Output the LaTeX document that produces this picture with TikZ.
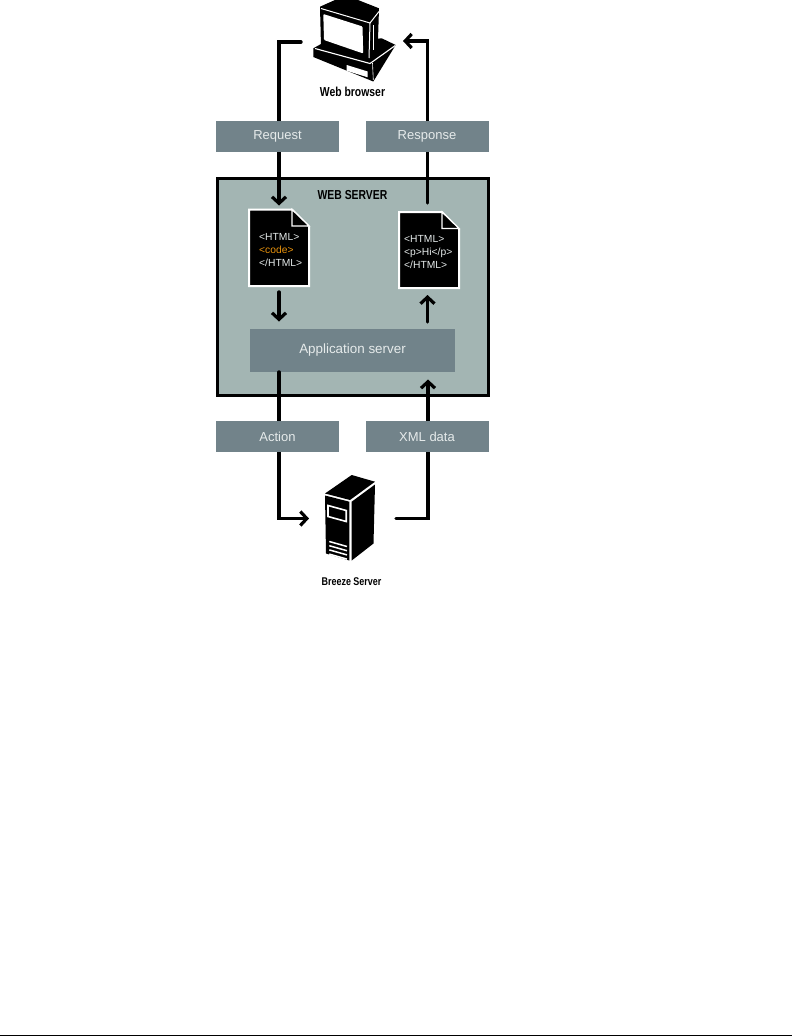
\documentclass[tikz,border=0pt]{standalone}
\usepackage{fontspec}
\usetikzlibrary{arrows.meta}
\setmainfont{Liberation Sans}
\newfontfamily\condfont[FakeStretch=0.8]{Liberation Sans}
\definecolor{panel}{HTML}{A3B5B3}
\definecolor{slate}{HTML}{72838A}
\definecolor{apptone}{HTML}{71838A}
\definecolor{codeorange}{HTML}{E8920C}
\definecolor{soft}{HTML}{E6EBEB}
\tikzset{
  flow/.style={line width=3.4pt,line join=miter,line cap=round,-{Straight Barb[length=6.5pt,width=14pt,line width=3.2pt]}},
  tag/.style={fill=slate,text=soft,minimum width=123pt,minimum height=31pt,inner sep=0pt,font=\fontsize{13}{15}\selectfont},
  caption/.style={font=\condfont\bfseries\fontsize{13}{15}\selectfont,inner sep=0pt,text=black},
  docsheet/.style={fill=black,draw=white,line width=2pt,line join=miter},
  codeline/.style={anchor=base west,inner sep=0pt,text=soft,font=\fontsize{10.3}{12}\selectfont},
}
\begin{document}
\begin{tikzpicture}[x=1pt,y=-1pt]
\useasboundingbox (0,0) rectangle (792,1036);
\fill[white] (0,0) rectangle (792,1036);
\draw[line width=1.2pt] (0,1035.2) -- (792,1035.2);

% web server panel
\node[draw=black,fill=panel,line width=3pt,minimum width=271pt,minimum height=217pt,inner sep=0pt] (webserver) at (352.5,286.5) {};
\node[caption] (webtitle) at (352.5,195.5) {WEB SERVER};
\node[fill=apptone,text=soft,minimum width=205pt,minimum height=43pt,inner sep=0pt,font=\fontsize{13.4}{15}\selectfont] (appserver) at (352.5,350.5) {Application server};

% connector ends
\coordinate (browserout) at (301,42);
\coordinate (browserin) at (403,41);
\coordinate (docinA) at (279,205.5);
\coordinate (docoutB) at (427.5,203);
\coordinate (docoutA) at (279,292);
\coordinate (appinA) at (279,321.5);
\coordinate (appoutB) at (427.5,322);
\coordinate (docinB) at (427.5,295);
\coordinate (appoutA) at (279,372);
\coordinate (breezein) at (309,518.5);
\coordinate (breezeout) at (396,518.5);
\coordinate (appinB) at (428,379.5);

% connectors
\draw[flow] (browserout) -| (docinA);
\draw[flow] (docoutB) |- (browserin);
\draw[flow] (docoutA) -- (appinA);
\draw[flow] (appoutB) -- (docinB);
\draw[flow] (appoutA) |- (breezein);
\draw[flow] (breezeout) -| (appinB);

% tags
\node[tag] (request) at (277.5,136.5) {Request};
\node[tag] (response) at (427,136.5) {Response};
\node[tag] (action) at (277.5,436.5) {Action};
\node[tag] (xmldata) at (427,436.5) {XML data};

% documents
\draw[docsheet] (249,209.5) -- (292,209.5) -- (309,226.5) -- (309,286) -- (249,286) -- cycle;
\draw[white,fill=black,line width=1.2pt,line join=miter] (292,209.5) -- (292,226) -- (309,226) -- cycle;
\node[codeline] (a1) at (259,240.7) {<HTML>};
\node[codeline,text=codeorange] (a2) at (259,253.3) {<code>};
\node[codeline] (a3) at (259,266.3) {</HTML>};

\draw[docsheet] (399,212) -- (442,212) -- (459,229) -- (459,288) -- (399,288) -- cycle;
\draw[white,fill=black,line width=1.2pt,line join=miter] (442,212) -- (442,228.5) -- (459,228.5) -- cycle;
\node[codeline] (b1) at (404,242.3) {<HTML>};
\node[codeline] (b2) at (404,255) {<p>Hi</p>};
\node[codeline] (b3) at (404,268.3) {</HTML>};

% computer
\fill[black] (313.3,48.3) -- (321,44) -- (381.7,38.3) -- (395.7,45) -- (373.3,81.5) -- (313.3,57) -- cycle;
\fill[black] (320,6.7) -- (335,0) -- (358,0) -- (379,8.3) -- (378,40) -- (370,60) -- (321,47) -- cycle;
\fill[white,rounded corners=1pt] (323.3,14) -- (362.5,26.5) -- (363.2,53.5) -- (324,40) -- cycle;
\draw[white,line width=1pt] (321,8.5) -- (370,23) -- (379,11.5);
\draw[white,line width=1pt] (370,23) -- (369,58);
\draw[white,line width=.5pt] (373.5,25) -- (373.5,50);
\draw[white,line width=1.1pt] (315,48.5) -- (370,63.5) -- (395.3,45.5);
\draw[white,line width=.6pt] (372.5,63) -- (373.3,80);
\fill[white] (346.7,65) -- (367.7,71.5) -- (367.7,77.3) -- (346.7,70.8) -- cycle;
\node[caption] (browser) at (352.5,92) {Web browser};

% server
\fill[black] (325,493.5) -- (351.7,475) -- (375,481.7) -- (350,500) -- cycle;
\fill[black] (325,495.5) -- (349.3,501.7) -- (349.3,560.5) -- (326,553.5) -- cycle;
\fill[black] (351.7,501.7) -- (375,484.5) -- (373.5,543.5) -- (351.7,560.5) -- cycle;
\draw[white,line width=1.6pt] (328,505.5) -- (346.2,510.5) -- (346.2,521.5) -- (328,516.5) -- cycle;
\foreach \yy in {0,1,2,3}
  \draw[white,line width=1.5pt] (329.3,{541.5+\yy*4.2}) -- (347,{546.5+\yy*4.2});
\node[caption,font=\condfont\bfseries\fontsize{11.2}{13}\selectfont] (breeze) at (351.5,582) {Breeze Server};
\end{tikzpicture}
\end{document}
